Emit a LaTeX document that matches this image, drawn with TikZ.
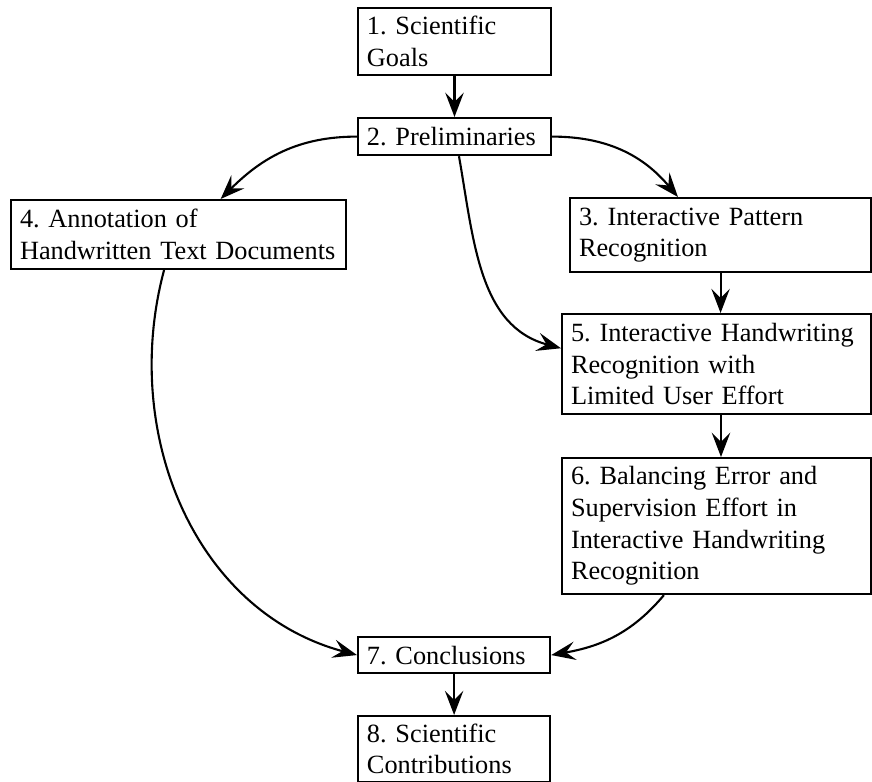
\documentclass[tikz,border=0pt]{standalone}
\usepackage{fontspec}
\setmainfont{Liberation Serif}
\frenchspacing
\usetikzlibrary{arrows.meta}
\tikzset{
  box/.style={draw, line width=0.8pt, align=left, anchor=north west,
    inner xsep=3.4pt, inner ysep=0pt,
    font=\fontsize{10pt}{12pt}\selectfont},
  arr/.style={line width=0.8pt, -{Stealth[length=9.2pt,width=7pt,inset=3.5pt]}}
}
\begin{document}
\begin{tikzpicture}[x=0.38pt,y=-0.38pt]
\useasboundingbox (0,0) rectangle (872,782);
\node[box, text width=66.5pt, minimum height=25.5pt] (b1) at (357,7) {1. Scientific\\Goals};
\node[box, text width=66.5pt, minimum height=14.1pt] (b2) at (357,117) {2. Preliminaries};
\node[box, text width=120.5pt, minimum height=26.2pt] (b4) at (10,199) {4. Annotation of\\Handwritten Text Documents};
\node[box, text width=107.6pt, minimum height=28.1pt] (b3) at (569,197) {3. Interactive Pattern\\Recognition};
\node[box, text width=110.6pt, minimum height=38pt] (b5) at (561,313) {5. Interactive Handwriting\\Recognition with\\Limited User Effort};
\node[box, text width=110.6pt, minimum height=51.7pt] (b6) at (561,457) {6. Balancing Error and\\Supervision Effort in\\Interactive Handwriting\\Recognition};
\node[box, text width=66.2pt, minimum height=13.7pt] (b7) at (357,636) {7. Conclusions};
\node[box, text width=66.2pt, minimum height=25.1pt] (b8) at (357,715) {8. Scientific\\Contributions};

\draw[arr] (b1.south) -- (b2.north);
\draw[arr] (b2.west) to[out=180,in=45] ([xshift=16pt]b4.north);
\draw[arr] (b2.east) to[out=0,in=130] ([xshift=-16.2pt]b3.north);
\draw[arr] ([xshift=1.7pt]b2.south) to[out=-80,in=165] ([yshift=6pt]b5.west);
\draw[arr] (b3.south) -- (b3.south |- b5.north);
\draw[arr] ([xshift=1.7pt]b5.south) -- ([xshift=1.7pt]b6.north);
\draw[arr] ([xshift=-5.5pt]b4.south) to[out=-105,in=165] (b7.west);
\draw[arr] ([xshift=-20pt]b6.south) to[out=-130,in=10] (b7.east);
\draw[arr] (b7.south) -- (b8.north);
\end{tikzpicture}
\end{document}
